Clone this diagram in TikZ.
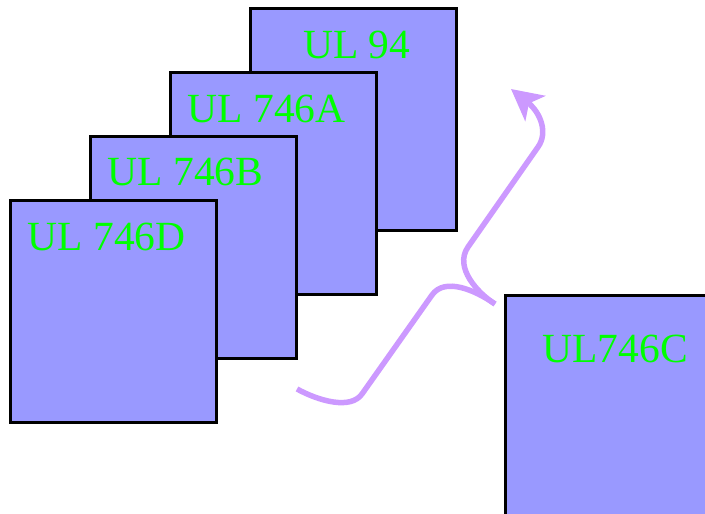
\documentclass[tikz,border=0pt]{standalone}
\usepackage{fontspec}
\setmainfont{Liberation Serif}
\usetikzlibrary{arrows.meta}
\definecolor{boxfill}{HTML}{9999FF}
\definecolor{lblgreen}{HTML}{00FF00}
\definecolor{curvecol}{HTML}{CC99FF}
\begin{document}
\begin{tikzpicture}[x=1pt,y=-1pt,
  card/.style={draw=black, fill=boxfill, line width=3pt, minimum width=206pt,
    minimum height=222pt, inner sep=0pt, outer sep=0pt, anchor=north west},
  bigcard/.style={card, minimum width=230pt, minimum height=240pt},
  lbl/.style={text=lblgreen, font=\fontsize{41.5}{48}\selectfont, inner sep=0pt,
    anchor=base west},
  flow/.style={draw=curvecol, line width=5.5pt, line join=round},
  flowtip/.style={flow, -{Stealth[length=31pt,width=32pt,inset=8pt]}}]
\useasboundingbox (0,0) rectangle (705,514);
\clip (0,0) rectangle (705,514);

\node[card] (b94)  at (250,8)   {};
\node[lbl]  (t94)  at (303,58)  {UL 94};
\node[card] (b46a) at (170,72)  {};
\node[lbl]  (t46a) at (187.5,122.7) {UL 746A};
\node[card] (b46b) at (90,136)  {};
\node[lbl]  (t46b) at (107.5,185.7) {UL 746B};
\node[card] (b46d) at (10,200)  {};
\node[lbl]  (t46d) at (27.5,250) {UL 746D};

\node[bigcard] (b46c) at (505,295) {};
\node[lbl]     (t46c) at (542.3,362.3) {UL746C};

\coordinate (s)  at (297,389);
\coordinate (p1) at (362,394);
\coordinate (p2) at (432,295);
\coordinate (e)  at (495,304);
\coordinate (q1) at (468,247);
\coordinate (q2) at (538,147);
\coordinate (tip) at (511,89);

\draw[flow] (s) .. controls (319,401) and (350.5,410) .. (p1) -- (p2)
  .. controls (444.7,277) and (475,290) .. (e);
\draw[flowtip] (e) .. controls (478,293.4) and (453.7,267.5) .. (q1) -- (q2)
  .. controls (548,133) and (541,113) .. (tip);
\end{tikzpicture}
\end{document}
